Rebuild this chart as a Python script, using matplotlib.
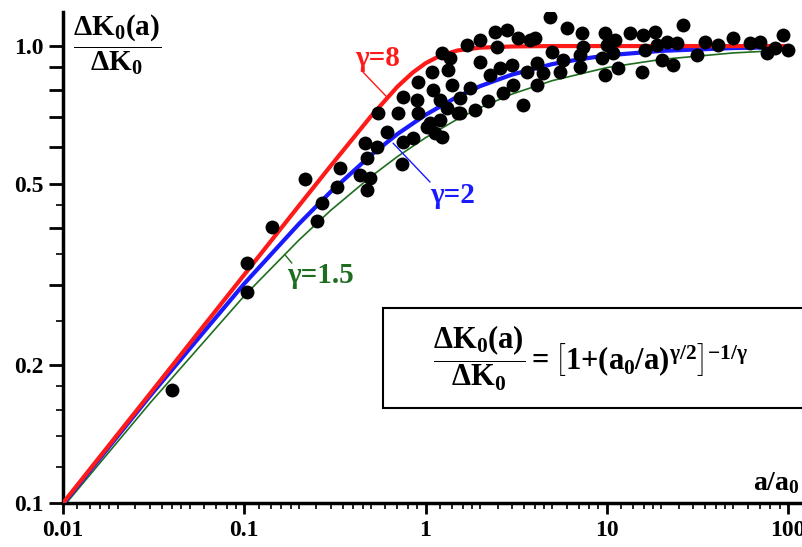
import matplotlib.pyplot as plt
from matplotlib.patches import Rectangle
from matplotlib.ticker import FixedLocator, FixedFormatter, NullFormatter

# measured points (a/a0, dK0(a)/dK0)
point_x = [0.0398, 0.103, 0.103, 0.142, 0.216, 0.251, 0.268, 0.324, 0.337, 0.435,
           0.474, 0.464, 0.538, 0.494, 0.474, 0.611, 0.547, 0.705, 0.739, 0.752,
           0.752, 0.894, 0.909, 0.853, 0.909, 1.015, 1.082, 1.10, 1.128, 1.202,
           1.229, 1.202, 1.229, 1.365, 1.331, 1.395, 1.309, 1.549, 1.549, 1.76,
           1.688, 2.0, 2.0, 2.27, 2.21, 2.42, 2.81, 2.47, 2.58, 2.68,
           2.99, 3.04, 3.24, 3.45, 3.62, 3.77, 4.11, 4.86, 4.02, 4.11,
           4.45, 4.97, 5.52, 5.74, 6.01, 7.28, 7.40, 7.12, 7.12, 9.38,
           9.78, 9.78, 10.0, 11.1, 10.8, 11.5, 13.4, 15.6, 15.8, 16.3,
           18.5, 18.9, 20.1, 21.4, 23.2, 24.3, 26.4, 31.4, 34.8, 41.1,
           49.7, 61.7, 70.1, 76.3, 84.8, 93.8, 100.0, 1.511, 1.876, 1.059]
point_y = [0.177, 0.335, 0.290, 0.402, 0.512, 0.415, 0.453, 0.492, 0.541, 0.522,
           0.569, 0.613, 0.602, 0.514, 0.484, 0.649, 0.713, 0.713, 0.552, 0.617,
           0.775, 0.762, 0.835, 0.629, 0.713, 0.665, 0.878, 0.801, 0.645, 0.762,
           0.632, 0.689, 0.965, 0.941, 0.886, 0.822, 0.732, 0.770, 0.713, 0.809,
           1.005, 1.031, 0.924, 0.864, 0.758, 1.075, 1.084, 0.997, 0.895, 0.789,
           0.909, 0.822, 1.041, 0.743, 0.878, 1.031, 0.918, 1.159, 1.041, 0.822,
           0.873, 0.972, 0.878, 0.932, 1.095, 1.068, 0.997, 0.956, 0.901, 0.941,
           1.068, 0.864, 1.005, 1.031, 0.965, 0.895, 1.068, 0.878, 1.057, 0.980,
           1.075, 1.005, 0.932, 1.022, 0.909, 1.015, 1.112, 0.956, 1.022, 1.005,
           1.041, 1.015, 1.022, 0.965, 0.990, 1.057, 0.980, 0.713, 0.724, 0.679]

# model curves
g8_x = [0.01, 0.03, 0.1, 0.2, 0.3, 0.5, 0.7, 0.85, 1.0, 1.2, 1.5, 2.0, 3.0, 5.0, 100.0]
g8_y = [0.100, 0.173, 0.316, 0.447, 0.547, 0.702, 0.815, 0.875, 0.917, 0.952,
        0.978, 0.992, 0.998, 1.0, 1.0]
g2_x = [0.01, 0.03, 0.1, 0.2, 0.3, 0.5, 0.7, 1.0, 1.5, 2.0, 3.0, 5.0, 7.0, 10.0,
        20.0, 50.0, 100.0]
g2_y = [0.0995, 0.171, 0.302, 0.408, 0.480, 0.577, 0.642, 0.707, 0.775, 0.817,
        0.866, 0.913, 0.935, 0.954, 0.976, 0.990, 0.995]
g15_x = [0.01, 0.03, 0.1, 0.2, 0.3, 0.5, 0.7, 1.0, 1.5, 2.0, 3.0, 5.0, 10.0,
         20.0, 50.0, 100.0]
g15_y = [0.098, 0.165, 0.284, 0.376, 0.437, 0.518, 0.573, 0.630, 0.692, 0.733,
         0.785, 0.840, 0.897, 0.935, 0.966, 0.980]

x_major = [0.01, 0.1, 1, 10, 100]
x_labels = ['0.01', '0.1', '1', '10', '100']
y_major = [0.1, 0.2, 0.3, 0.4, 0.5, 0.6, 0.7, 0.8, 0.9, 1.0]
y_labels = ['0.1', '0.2', '', '', '0.5', '', '', '', '', '1.0']

RED = '#ff1a1a'
BLUE = '#1a1aff'
GREEN = '#1f6e1f'

plt.rcParams['font.family'] = 'Liberation Serif'
plt.rcParams['font.weight'] = 'bold'
plt.rcParams['mathtext.fontset'] = 'custom'
plt.rcParams['mathtext.rm'] = 'Liberation Serif:bold'
plt.rcParams['mathtext.it'] = 'Liberation Serif:bold'
plt.rcParams['mathtext.bf'] = 'Liberation Serif:bold'
plt.rcParams['mathtext.default'] = 'rm'

fig = plt.figure(figsize=(8.03, 5.47), dpi=100)
ax = fig.add_axes([0.0785, 0.0804, 0.9215, 0.8976])

ax.plot(g15_x, g15_y, color=GREEN, lw=1.2, zorder=2)
ax.plot(g2_x, g2_y, color=BLUE, lw=3.0, zorder=3)
ax.plot(g8_x, g8_y, color=RED, lw=3.0, zorder=4)
ax.scatter(point_x, point_y, s=100, color='black', zorder=5, linewidths=0)

ax.set_xscale('log')
ax.set_yscale('log')
ax.set_xlim(0.01, 121)
ax.set_ylim(0.1, 1.187)

# ticks: decades labelled, extra minor marks in between
ax.xaxis.set_major_locator(FixedLocator(x_major))
ax.xaxis.set_major_formatter(FixedFormatter(x_labels))
x_minor = [d * m for d in [0.01, 0.1, 1, 10]
           for m in [1.2, 1.4, 1.6, 1.8, 2, 2.5, 3, 3.5, 4, 4.5, 5, 6, 7, 8, 9]]
ax.xaxis.set_minor_locator(FixedLocator(x_minor))
ax.xaxis.set_minor_formatter(NullFormatter())
ax.yaxis.set_major_locator(FixedLocator(y_major))
ax.yaxis.set_major_formatter(FixedFormatter(y_labels))
ax.yaxis.set_minor_locator(FixedLocator([0.12, 0.14, 0.16, 0.18, 0.25, 0.35, 0.45]))
ax.yaxis.set_minor_formatter(NullFormatter())

ax.tick_params(which='major', direction='out', width=2, labelsize=17, colors='black')
ax.tick_params(axis='x', which='major', length=8, pad=4)
ax.tick_params(axis='x', which='minor', direction='out', length=4, width=1.2)
ax.tick_params(axis='y', which='major', length=10, pad=4)
ax.tick_params(axis='y', which='minor', direction='out', length=5, width=1.2)
for lab in ax.get_xticklabels() + ax.get_yticklabels():
    lab.set_fontweight('bold')

for side in ['top', 'right']:
    ax.spines[side].set_visible(False)
for side in ['left', 'bottom']:
    ax.spines[side].set_linewidth(2.5)

# curve labels and their leader lines
ax.text(0.547, 0.941, 'γ=8', color=RED, fontsize=21, fontweight='bold',
        ha='center', va='center')
ax.annotate('', xy=(0.613, 0.773), xytext=(0.452, 0.877),
            arrowprops=dict(arrowstyle='-', color=RED, lw=1, shrinkA=0, shrinkB=0))
ax.text(1.418, 0.470, 'γ=2', color=BLUE, fontsize=21, fontweight='bold',
        ha='center', va='center')
ax.annotate('', xy=(0.662, 0.613), xytext=(1.059, 0.504),
            arrowprops=dict(arrowstyle='-', color=BLUE, lw=1, shrinkA=0, shrinkB=0))
ax.text(0.262, 0.315, 'γ=1.5', color=GREEN, fontsize=21, fontweight='bold',
        ha='center', va='center')
ax.annotate('', xy=(0.168, 0.349), xytext=(0.183, 0.335),
            arrowprops=dict(arrowstyle='-', color=GREEN, lw=1, shrinkA=0, shrinkB=0))

# axis titles
ax.text(0.073, 0.933, r'$\dfrac{\Delta K_0(a)}{\Delta K_0}$', transform=ax.transAxes,
        fontsize=21, ha='center', va='center')
ax.text(0.932, 0.04, r'$a/a_0$', transform=ax.transAxes, fontsize=20,
        ha='left', va='center')

# formula box
box = Rectangle((0.4324, 0.1935), 0.6, 0.2037, transform=ax.transAxes,
                facecolor='white', edgecolor='black', lw=1.5, clip_on=False, zorder=6)
ax.add_patch(box)
ax.text(0.713, 0.295,
        r'$\dfrac{\Delta K_0(a)}{\Delta K_0}{=}\left[1{+}(a_0/a)^{\gamma/2}\right]^{-1/\gamma}$',
        transform=ax.transAxes, fontsize=22, ha='center', va='center', zorder=7)

plt.savefig('out.png', dpi=100)
